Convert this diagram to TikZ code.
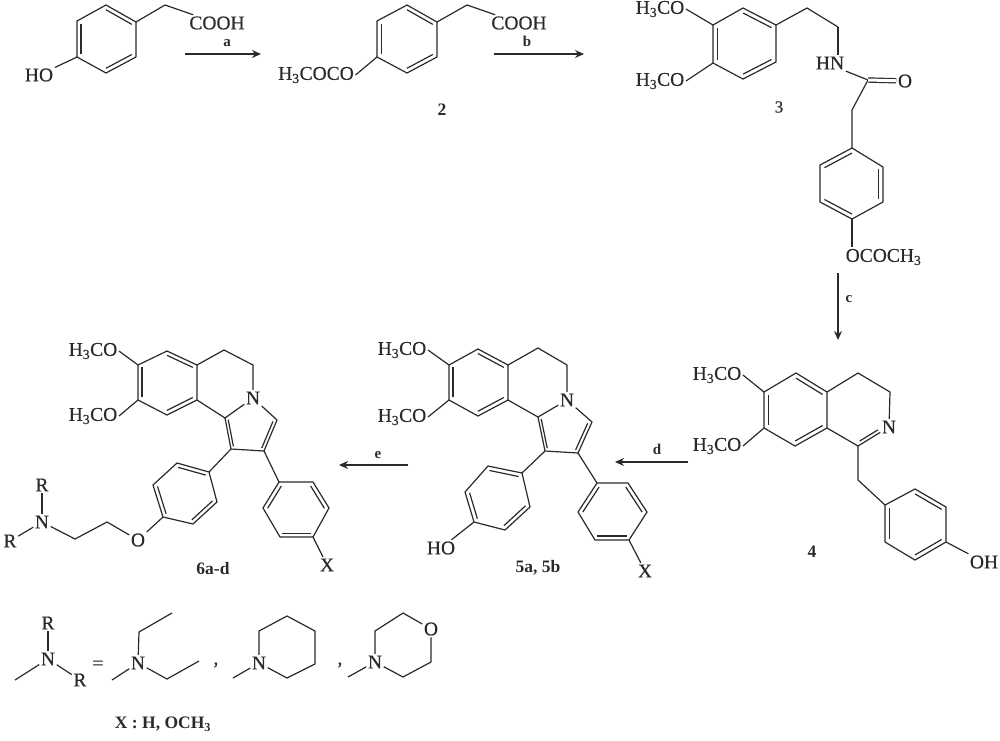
\documentclass[tikz,border=0pt]{standalone}
\usepackage{fontspec}
\setmainfont{Liberation Serif}
\newfontfamily\atomfont[FakeBold=0.35]{Liberation Serif}
\usetikzlibrary{calc, arrows.meta}
\definecolor{inkcol}{HTML}{2A2A2A}
\newcommand{\dblbond}[3]{\draw[bond] ($(#1)!.14!(#3)$) -- ($(#2)!.14!(#3)$);}
\newcommand{\sub}[1]{\textsubscript{#1}}
\tikzset{
    bond/.style={draw=inkcol, line width=1.2pt, line join=round},
    atom/.style={text=inkcol, inner sep=1.5pt, font=\fontsize{19.5}{19.5}\selectfont\atomfont},
    cmpd/.style={text=inkcol, inner sep=0pt, font=\fontsize{17.5}{18}\selectfont\bfseries},
    reagent/.style={text=inkcol, inner sep=0pt, font=\fontsize{15}{15}\selectfont\bfseries},
    step arrow/.style={draw=inkcol, line width=1.2pt, -{Stealth[length=9pt,width=8pt]}}
}
\begin{document}
\begin{tikzpicture}[x=1pt, y=-1pt]
    \useasboundingbox (0,0) rectangle (1000,740);

    % compound 1
    \coordinate (a1) at (106,5); \coordinate (a2) at (136,22); \coordinate (a3) at (136,57);
    \coordinate (a4) at (106,73); \coordinate (a5) at (77,57); \coordinate (a6) at (77,21);
    \coordinate (a0) at (106,39); \coordinate (a7) at (165,5);
    \node[atom] (acooh) at (217,23) {COOH};
    \node[atom] (aho) at (39,75) {HO};
    \draw[bond] (a1) -- (a2) -- (a3) -- (a4) -- (a5) -- (a6) -- cycle;
    \draw[bond] (a2) -- (a7);
    \draw[bond] (a7) -- (acooh);
    \draw[bond] (a5) -- (aho);
    \dblbond{a1}{a2}{a0} \dblbond{a3}{a4}{a0} \dblbond{a5}{a6}{a0}

    % compound 2
    \coordinate (b1) at (407,5); \coordinate (b2) at (437,22); \coordinate (b3) at (437,57);
    \coordinate (b4) at (407,73); \coordinate (b5) at (377,57); \coordinate (b6) at (377,21);
    \coordinate (b0) at (407,39); \coordinate (b7) at (467,5);
    \node[atom] (bcooh) at (519,23) {COOH};
    \node[atom] (bac) at (316,75) {H\sub{3}COCO};
    \draw[bond] (b1) -- (b2) -- (b3) -- (b4) -- (b5) -- (b6) -- cycle;
    \draw[bond] (b2) -- (b7);
    \draw[bond] (b7) -- (bcooh);
    \draw[bond] (b5) -- (bac.east);
    \dblbond{b1}{b2}{b0} \dblbond{b3}{b4}{b0} \dblbond{b5}{b6}{b0}
    \node[cmpd] (lab2) at (442,110) {2};

    % compound 3
    \coordinate (c1) at (743,8); \coordinate (c2) at (776,25); \coordinate (c3) at (776,62);
    \coordinate (c4) at (743,79); \coordinate (c5) at (713,63); \coordinate (c6) at (713,25);
    \coordinate (c0) at (744,44); \coordinate (c7) at (807,8); \coordinate (c8) at (838,27);
    \coordinate (c9) at (868,80); \coordinate (c10) at (852,110);
    \coordinate (d1) at (852,148); \coordinate (d2) at (883,167); \coordinate (d3) at (883,202);
    \coordinate (d4) at (852,219); \coordinate (d5) at (820,202); \coordinate (d6) at (820,165);
    \coordinate (d0) at (852,184);
    \node[atom] (cme1) at (660,9) {H\sub{3}CO};
    \node[atom] (cme2) at (660,81) {H\sub{3}CO};
    \node[atom] (chn) at (830,63) {HN};
    \node[atom] (coo) at (905,81) {O};
    \node[atom,anchor=west] (cac) at (844,257) {OCOCH\sub{3}};
    \draw[bond] (c1) -- (c2) -- (c3) -- (c4) -- (c5) -- (c6) -- cycle;
    \draw[bond] (c2) -- (c7) -- (c8);
    \draw[bond] (c8) -- (c8 |- chn.north);
    \draw[bond] (chn.south east) -- (c9) -- (c10) -- (d1);
    \draw[bond, double, double distance=3pt] (c9) -- (coo);
    \draw[bond] (c6) -- (cme1.east);
    \draw[bond] (c5) -- (cme2.east);
    \dblbond{c1}{c2}{c0} \dblbond{c3}{c4}{c0} \dblbond{c5}{c6}{c0}
    \draw[bond] (d1) -- (d2) -- (d3) -- (d4) -- (d5) -- (d6) -- cycle;
    \draw[bond] (d4) -- (d4 |- cac.north);
    \dblbond{d1}{d6}{d0} \dblbond{d2}{d3}{d0} \dblbond{d4}{d5}{d0}
    \node[text=inkcol, font=\fontsize{17}{17}\selectfont\atomfont] (lab3) at (779,107) {3};

    % compound 4
    \coordinate (e1) at (796,373); \coordinate (e2) at (827,392); \coordinate (e3) at (827,428);
    \coordinate (e4) at (795,446); \coordinate (e5) at (764,428); \coordinate (e6) at (764,392);
    \coordinate (e0) at (796,410); \coordinate (e7) at (858,373); \coordinate (e8) at (890,392);
    \coordinate (e9) at (858,446); \coordinate (e10) at (858,480); \coordinate (e11) at (858,410);
    \coordinate (f1) at (885,505); \coordinate (f2) at (915,489); \coordinate (f3) at (946,507);
    \coordinate (f4) at (946,542); \coordinate (f5) at (915,560); \coordinate (f6) at (885,542);
    \coordinate (f0) at (915,524);
    \node[atom] (eme1) at (717,375) {H\sub{3}CO};
    \node[atom] (eme2) at (717,446) {H\sub{3}CO};
    \node[atom] (en) at (889,427) {N};
    \node[atom] (foh) at (984,562) {OH};
    \draw[bond] (e1) -- (e2) -- (e3) -- (e4) -- (e5) -- (e6) -- cycle;
    \draw[bond] (e2) -- (e7) -- (e8) -- (en);
    \draw[bond] (e3) -- (e9) -- (en);
    \draw[bond] (e9) -- (e10) -- (f1);
    \draw[bond] (e6) -- (eme1.east);
    \draw[bond] (e5) -- (eme2.east);
    \draw[bond] (f4) -- (foh);
    \dblbond{e1}{e2}{e0} \dblbond{e3}{e4}{e0} \dblbond{e5}{e6}{e0}
    \draw[bond, shorten >=9pt, shorten <=2pt] ($(e9)!.11!(e11)$) -- ($(en)!.11!(e11)$);
    \draw[bond] (f1) -- (f2) -- (f3) -- (f4) -- (f5) -- (f6) -- cycle;
    \dblbond{f1}{f6}{f0} \dblbond{f2}{f3}{f0} \dblbond{f4}{f5}{f0}
    \node[cmpd] (lab4) at (812,552) {4};

    % compound 5
    \coordinate (g1) at (478,349); \coordinate (g2) at (508,365); \coordinate (g3) at (508,400);
    \coordinate (g4) at (478,416); \coordinate (g5) at (449,400); \coordinate (g6) at (449,365);
    \coordinate (g0) at (478,382); \coordinate (g7) at (538,348); \coordinate (g8) at (567,365);
    \coordinate (g9) at (538,417); \coordinate (g10) at (592,422); \coordinate (g11) at (578,453);
    \coordinate (g12) at (545,451); \coordinate (g13) at (561,431);
    \coordinate (h1) at (522,473); \coordinate (h2) at (488,466); \coordinate (h3) at (465,492);
    \coordinate (h4) at (474,522); \coordinate (h5) at (505,530); \coordinate (h6) at (530,507);
    \coordinate (h0) at (498,498);
    \coordinate (i1) at (597,483); \coordinate (i2) at (628,483); \coordinate (i3) at (647,512);
    \coordinate (i4) at (629,540); \coordinate (i5) at (595,540); \coordinate (i6) at (578,512);
    \coordinate (i0) at (612,512);
    \node[atom] (gme1) at (402,350) {H\sub{3}CO};
    \node[atom] (gme2) at (402,417) {H\sub{3}CO};
    \node[atom] (gn) at (567,400) {N};
    \node[atom] (hho) at (441,548) {HO};
    \node[atom] (ix) at (645,571) {X};
    \draw[bond] (g1) -- (g2) -- (g3) -- (g4) -- (g5) -- (g6) -- cycle;
    \draw[bond] (g2) -- (g7) -- (g8) -- (gn);
    \draw[bond] (g3) -- (g9) -- (gn);
    \draw[bond] (gn) -- (g10) -- (g11) -- (g12) -- (g9);
    \draw[bond] (g6) -- (gme1.east);
    \draw[bond] (g5) -- (gme2.east);
    \dblbond{g1}{g2}{g0} \dblbond{g3}{g4}{g0} \dblbond{g5}{g6}{g0}
    \dblbond{g9}{g12}{g13} \dblbond{g10}{g11}{g13}
    \draw[bond] (g12) -- (h1) -- (h2) -- (h3) -- (h4) -- (h5) -- (h6) -- (h1);
    \draw[bond] (h4) -- (hho);
    \dblbond{h1}{h2}{h0} \dblbond{h3}{h4}{h0} \dblbond{h5}{h6}{h0}
    \draw[bond] (g11) -- (i1) -- (i2) -- (i3) -- (i4) -- (i5) -- (i6) -- (i1);
    \draw[bond] (i4) -- (ix);
    \dblbond{i1}{i6}{i0} \dblbond{i2}{i3}{i0} \dblbond{i4}{i5}{i0}
    \node[cmpd] (lab5) at (538,568) {5a, 5b};

    % compound 6
    \coordinate (j1) at (167,351); \coordinate (j2) at (197,365); \coordinate (j3) at (197,400);
    \coordinate (j4) at (167,415); \coordinate (j5) at (138,400); \coordinate (j6) at (138,365);
    \coordinate (j0) at (167,382); \coordinate (j7) at (224,350); \coordinate (j8) at (253,365);
    \coordinate (j9) at (225,418); \coordinate (j10) at (277,420); \coordinate (j11) at (264,451);
    \coordinate (j12) at (231,449); \coordinate (j13) at (248,430);
    \coordinate (k1) at (209,472); \coordinate (k2) at (177,463); \coordinate (k3) at (153,485);
    \coordinate (k4) at (163,517); \coordinate (k5) at (193,524); \coordinate (k6) at (217,502);
    \coordinate (k0) at (185,494); \coordinate (k7) at (107,522); \coordinate (k8) at (75,539);
    \coordinate (l1) at (279,482); \coordinate (l2) at (313,482); \coordinate (l3) at (329,508);
    \coordinate (l4) at (313,537); \coordinate (l5) at (280,537); \coordinate (l6) at (263,508);
    \coordinate (l0) at (296,510);
    \node[atom] (jme1) at (93,351) {H\sub{3}CO};
    \node[atom] (jme2) at (93,416) {H\sub{3}CO};
    \node[atom] (jn) at (253,398) {N};
    \node[atom] (ko) at (138,540) {O};
    \node[atom] (kn) at (42,522) {N};
    \node[atom] (kr1) at (42,485) {R};
    \node[atom] (kr2) at (10,541) {R};
    \node[atom] (lx) at (327,565) {X};
    \draw[bond] (j1) -- (j2) -- (j3) -- (j4) -- (j5) -- (j6) -- cycle;
    \draw[bond] (j2) -- (j7) -- (j8) -- (jn);
    \draw[bond] (j3) -- (j9) -- (jn);
    \draw[bond] (jn) -- (j10) -- (j11) -- (j12) -- (j9);
    \draw[bond] (j6) -- (jme1.east);
    \draw[bond] (j5) -- (jme2.east);
    \dblbond{j1}{j2}{j0} \dblbond{j3}{j4}{j0} \dblbond{j5}{j6}{j0}
    \dblbond{j9}{j12}{j13} \dblbond{j10}{j11}{j13}
    \draw[bond] (j12) -- (k1) -- (k2) -- (k3) -- (k4) -- (k5) -- (k6) -- (k1);
    \dblbond{k1}{k2}{k0} \dblbond{k3}{k4}{k0} \dblbond{k5}{k6}{k0}
    \draw[bond] (k4) -- (ko) -- (k7) -- (k8) -- (kn);
    \draw[bond] (kn) -- (kr1);
    \draw[bond] (kn) -- (kr2);
    \draw[bond] (j11) -- (l1) -- (l2) -- (l3) -- (l4) -- (l5) -- (l6) -- (l1);
    \draw[bond] (l4) -- (lx);
    \dblbond{l1}{l6}{l0} \dblbond{l2}{l3}{l0} \dblbond{l4}{l5}{l0}
    \node[cmpd] (lab6) at (213,568) {6a-d};

    % R groups
    \coordinate (m1) at (15,680);
    \node[atom] (mn) at (48,659) {N};
    \node[atom] (mr1) at (48,623) {R};
    \node[atom] (mr2) at (80,680) {R};
    \node[atom] (meq) at (98,665) {=};
    \draw[bond] (m1) -- (mn);
    \draw[bond] (mn) -- (mr1);
    \draw[bond] (mn) -- (mr2);

    \coordinate (n1) at (112,680); \coordinate (n2) at (139,632); \coordinate (n3) at (172,613);
    \coordinate (n4) at (167,679); \coordinate (n5) at (199,661);
    \node[atom] (nn) at (138,663) {N};
    \draw[bond] (n1) -- (nn);
    \draw[bond] (nn) -- (n2) -- (n3);
    \draw[bond] (nn) -- (n4) -- (n5);
    \node[atom] (com1) at (216,665) {,};

    \coordinate (p1) at (233,678); \coordinate (p2) at (259,631); \coordinate (p3) at (287,616);
    \coordinate (p4) at (315,631); \coordinate (p5) at (315,664); \coordinate (p6) at (287,678);
    \node[atom] (pn) at (259,663) {N};
    \draw[bond] (p1) -- (pn);
    \draw[bond] (pn) -- (p2) -- (p3) -- (p4) -- (p5) -- (p6) -- (pn);
    \node[atom] (com2) at (340,665) {,};

    \coordinate (q1) at (348,677); \coordinate (q2) at (375,631); \coordinate (q3) at (403,613);
    \coordinate (q4) at (431,662); \coordinate (q5) at (403,677);
    \node[atom] (qn) at (375,662) {N};
    \node[atom] (qo) at (431,629) {O};
    \draw[bond] (q1) -- (qn);
    \draw[bond] (qn) -- (q2) -- (q3) -- (qo) -- (q4) -- (q5) -- (qn);

    \node[cmpd] (xnote) at (163,724) {X : H, OCH\sub{3}};

    % reaction arrows
    \coordinate (sa1) at (185,54); \coordinate (sa2) at (261,54);
    \coordinate (sb1) at (494,54); \coordinate (sb2) at (584,54);
    \coordinate (sc1) at (838,273); \coordinate (sc2) at (838,340);
    \coordinate (sd1) at (688,462); \coordinate (sd2) at (615,462);
    \coordinate (se1) at (408,465); \coordinate (se2) at (339,465);
    \draw[step arrow] (sa1) -- (sa2);
    \draw[step arrow] (sb1) -- (sb2);
    \draw[step arrow] (sc1) -- (sc2);
    \draw[step arrow] (sd1) -- (sd2);
    \draw[step arrow] (se1) -- (se2);
    \node[reagent] (laba) at (227,43) {a};
    \node[reagent] (labb) at (527,41) {b};
    \node[reagent] (labc) at (849,299) {c};
    \node[reagent] (labd) at (657,449) {d};
    \node[reagent] (labe) at (378,455) {e};
\end{tikzpicture}
\end{document}
